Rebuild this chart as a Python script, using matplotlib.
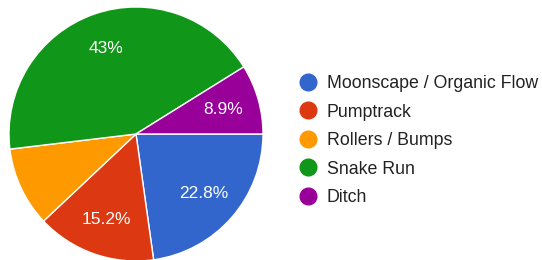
import matplotlib
matplotlib.use("Agg")
import matplotlib.pyplot as plt
from matplotlib.lines import Line2D

labels = ["Moonscape / Organic Flow", "Pumptrack", "Rollers / Bumps", "Snake Run", "Ditch"]
counts = [18, 12, 8, 34, 7]
colors = ["#3366cc", "#dc3912", "#ff9900", "#109618", "#990099"]

plt.rcParams["font.family"] = ["Liberation Sans", "DejaVu Sans"]

fig = plt.figure(figsize=(5.42, 2.60), dpi=100)
ax = fig.add_axes([9 / 542, -1 / 260, 254 / 542, 254 / 260])

def pct(p):
    # the orange slice has no label in the original
    if 10 < p < 10.5:
        return ""
    return "{:.1f}%".format(p).replace(".0%", "%")

wedges, texts, autotexts = ax.pie(counts, colors=colors, startangle=0, counterclock=False,
                                  autopct=pct, pctdistance=0.71,
                                  wedgeprops=dict(edgecolor="white", linewidth=1),
                                  textprops=dict(color="white", fontsize=12.5))
ax.set_xlim(-1, 1)
ax.set_ylim(-1, 1)
ax.axis("off")

handles = [Line2D([], [], marker="o", linestyle="", markersize=12,
                  markerfacecolor=c, markeredgecolor=c) for c in colors]
fig.legend(handles, labels, loc="upper left", bbox_to_anchor=(299 / 542, 1 - 75 / 260),
           frameon=False, fontsize=12.8, handletextpad=0.55, labelspacing=0.65,
           labelcolor="#222222", handlelength=1.0, borderaxespad=0, borderpad=0)

fig.savefig("out.png", dpi=100, facecolor="white")
